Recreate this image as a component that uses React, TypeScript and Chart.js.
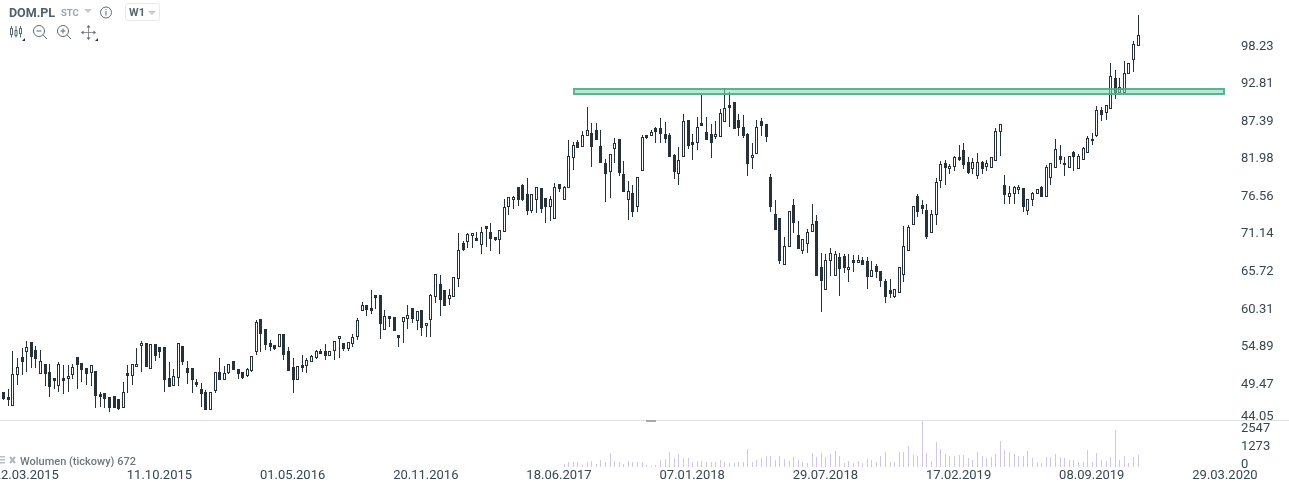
import React, { useEffect, useRef } from "react";
import { Chart, registerables } from "chart.js";

Chart.register(...registerables);

const opens = [
  48.23,47.51,46.21,50.69,53.29,54.01,55.45,54.30,50.83,52.27,
  51.12,50.26,49.10,50.26,50.11,50.69,53.29,52.42,51.70,50.98,
  51.27,47.94,48.09,47.51,47.65,47.22,45.93,50.98,50.54,51.84,
  54.87,55.31,51.55,55.16,54.73,54.73,50.26,49.10,50.26,54.87,
  51.70,51.70,49.68,48.66,48.23,45.64,48.38,51.12,49.97,50.98,
  52.71,51.55,51.12,50.54,51.27,54.01,58.77,57.32,55.31,55.02,
  54.73,56.60,54.16,51.84,49.97,52.13,51.98,52.56,53.15,54.16,
  54.16,53.43,54.16,55.88,55.31,54.44,55.16,56.17,59.93,60.79,
  60.36,62.23,62.23,57.18,59.20,59.06,56.46,58.33,58.77,60.36,
  58.48,60.07,57.76,58.62,61.94,63.82,62.95,61.65,61.94,64.54,
  69.74,69.88,70.75,70.46,69.45,72.19,71.32,70.60,70.17,71.32,
  74.93,75.94,77.82,78.11,76.80,74.36,75.94,77.67,76.22,74.93,
  73.19,78.25,75.94,77.67,82.00,84.31,83.59,85.17,85.61,86.04,
  83.73,81.28,79.98,83.30,84.74,79.69,75.94,76.95,74.93,80.13,
  85.32,85.17,86.33,86.33,85.46,85.32,82.43,79.69,82.14,87.48,
  84.31,84.16,87.05,85.75,85.46,85.03,85.03,87.19,89.65,90.08,
  87.48,86.47,85.46,82.00,82.58,87.34,86.90,79.26,73.92,73.34,
  66.56,69.16,75.22,70.89,68.58,69.59,71.32,72.91,66.27,62.95,
  67.14,64.97,67.71,67.86,65.84,67.28,66.85,67.28,67.14,64.83,
  66.42,65.70,64.25,62.95,61.94,62.52,65.12,68.58,72.33,76.51,
  75.22,74.50,71.18,73.78,78.68,81.28,80.41,80.70,82.14,83.16,
  81.42,80.41,79.40,81.42,80.70,80.56,81.57,85.75,78.11,76.37,
  76.80,77.38,77.67,74.36,75.94,76.80,77.82,76.37,79.12,80.56,
  82.29,81.28,80.56,82.87,80.41,81.71,82.72,84.74,85.17,88.93,
  88.49,89.07,93.54,91.38,91.38,94.12,96.14,98.16,
];

const highs = [
  48.23,48.66,54.16,53.15,54.59,55.60,55.45,54.87,54.30,52.27,
  52.27,50.26,52.56,52.13,52.13,52.27,53.29,52.42,51.70,52.13,
  51.27,48.23,48.09,47.51,47.65,47.22,49.68,52.13,52.27,54.59,
  55.60,55.31,55.16,55.16,54.73,54.73,52.56,51.55,55.31,54.87,
  52.71,51.70,50.11,49.54,48.52,48.23,51.12,53.15,51.98,52.27,
  52.71,51.55,51.12,51.70,53.43,58.62,58.77,57.32,55.74,55.02,
  56.60,56.60,54.73,53.15,51.98,53.58,53.15,53.58,54.30,54.44,
  55.16,54.16,55.60,56.31,55.31,55.45,56.60,58.91,61.22,60.79,
  62.95,62.23,62.23,60.07,59.20,59.06,56.46,59.06,60.79,60.36,
  59.93,60.07,58.19,62.37,65.26,65.12,62.95,63.10,64.83,71.18,
  70.03,71.18,71.18,71.32,72.04,72.19,72.62,70.60,71.61,76.08,
  76.37,76.51,77.82,78.25,79.12,76.80,77.82,77.67,76.22,76.51,
  78.39,78.25,77.96,84.60,84.31,84.60,85.90,89.36,87.05,87.05,
  86.04,81.86,82.58,84.89,84.74,81.57,78.68,78.11,79.26,85.32,
  85.32,86.04,86.47,87.77,87.19,85.61,82.58,83.59,88.35,87.48,
  85.46,87.92,91.09,87.92,86.90,87.34,89.07,92.10,91.52,90.08,
  88.35,88.20,85.61,84.16,87.48,87.77,86.90,79.69,75.94,73.34,
  70.60,74.36,76.08,72.91,70.31,71.75,75.36,73.78,68.29,68.14,
  69.01,68.58,68.29,68.14,68.14,68.00,68.00,67.71,67.71,67.14,
  66.70,65.70,64.54,64.54,63.10,66.27,72.19,72.33,75.07,76.80,
  75.94,75.36,74.50,79.12,81.57,81.71,81.14,82.29,83.87,84.16,
  82.14,82.00,82.72,81.57,81.71,82.14,86.33,86.90,79.55,77.96,
  77.96,78.11,77.67,76.08,77.09,77.53,77.96,80.99,81.28,84.74,
  83.87,82.14,82.29,83.01,82.58,83.59,85.17,85.61,89.50,89.36,
  89.65,95.71,94.70,93.54,96.00,95.71,98.88,102.64,
];

const lows = [
  47.08,46.21,46.21,49.25,50.69,51.12,51.70,51.70,50.83,49.10,
  47.51,48.66,48.23,47.94,48.23,50.11,48.66,49.68,49.25,49.10,
  45.93,46.07,45.93,45.35,45.93,45.64,45.93,48.09,49.25,51.84,
  51.12,51.84,51.55,52.71,53.15,48.23,48.95,49.10,49.10,52.13,
  49.39,48.09,48.95,46.07,45.64,45.64,48.09,49.97,49.97,50.83,
  51.41,50.11,50.11,50.40,51.12,53.58,54.01,54.30,54.16,54.30,
  54.73,52.85,51.27,48.09,49.97,51.12,50.98,52.56,53.00,53.72,
  52.85,53.43,52.85,53.15,54.16,54.16,54.73,55.74,59.93,59.20,
  59.49,60.21,55.88,57.18,57.61,57.04,54.73,55.31,57.32,58.19,
  57.18,56.31,56.17,56.17,61.07,59.20,60.64,60.79,61.94,63.38,
  68.58,69.01,69.01,70.03,68.14,69.16,68.58,70.03,68.14,71.32,
  73.78,74.64,75.07,75.80,73.78,74.07,74.07,74.07,72.62,72.91,
  73.19,77.09,75.94,77.67,80.27,83.44,83.59,85.17,80.70,84.60,
  81.28,75.65,76.22,81.28,79.40,77.09,73.05,73.48,74.21,80.13,
  84.74,85.17,84.16,84.16,84.16,82.14,78.97,78.11,82.14,83.30,
  81.71,83.16,86.62,84.60,82.00,84.74,85.03,87.19,86.47,86.18,
  85.17,84.89,79.40,80.41,82.58,85.17,84.31,74.21,71.61,66.70,
  66.56,69.16,71.18,68.87,68.14,68.29,71.32,64.97,59.78,62.95,
  64.97,64.97,62.08,65.41,64.11,65.55,66.85,66.56,63.10,64.83,
  64.68,63.38,61.07,61.80,61.80,62.52,64.11,68.58,72.33,73.48,
  73.92,70.31,71.18,72.33,77.67,78.11,79.69,80.13,81.57,80.41,
  79.69,79.69,78.97,79.69,80.13,80.56,81.57,82.29,75.36,75.36,
  75.36,76.80,74.21,73.78,75.07,76.80,76.37,76.37,78.11,80.56,
  81.14,79.40,80.56,80.13,80.41,81.71,82.72,83.87,85.03,87.34,
  87.48,89.07,90.51,91.38,91.38,94.12,94.41,98.16,
];

const closes = [
  47.22,47.08,50.83,51.84,52.56,54.73,53.29,53.00,52.71,50.83,
  48.95,49.83,52.27,49.83,50.54,51.84,52.13,51.41,50.83,52.13,
  47.65,47.51,47.22,45.93,45.93,45.78,48.23,50.54,52.27,52.27,
  55.31,51.84,55.16,53.43,54.01,49.97,48.95,50.54,55.31,52.56,
  50.98,49.97,49.25,47.94,45.64,48.23,51.12,49.97,50.98,52.27,
  51.41,50.83,50.26,51.55,53.43,58.33,56.60,55.02,54.73,54.44,
  56.60,53.58,51.27,49.97,51.98,51.70,52.85,53.43,54.16,53.72,
  53.43,54.16,55.60,56.31,54.44,55.45,56.17,58.62,60.79,60.07,
  59.93,61.80,58.04,59.20,58.77,57.04,56.02,59.06,59.35,58.77,
  59.93,57.47,58.19,62.23,65.26,61.51,60.64,62.23,64.83,68.72,
  68.72,71.03,71.18,70.03,71.32,71.75,70.31,70.17,71.61,74.93,
  76.37,76.37,75.94,75.94,74.36,76.80,77.82,74.64,74.93,76.08,
  77.82,77.53,77.82,82.29,83.87,83.44,85.32,86.04,83.59,84.60,
  81.28,79.69,82.58,84.16,79.84,77.09,77.24,74.21,79.26,85.03,
  84.89,85.75,85.75,85.46,84.74,82.14,79.98,81.71,87.34,83.73,
  83.87,86.47,86.62,84.60,84.16,85.46,88.49,89.22,89.22,86.18,
  86.33,85.17,81.14,82.43,86.47,86.62,85.03,74.93,71.61,67.14,
  69.30,74.36,72.62,68.87,70.31,71.32,72.48,64.97,64.25,67.28,
  68.29,68.14,65.98,66.13,66.27,66.85,67.28,66.56,64.83,65.84,
  65.55,64.25,61.94,62.37,63.10,66.27,69.30,72.04,75.07,74.21,
  74.64,70.60,73.92,78.54,81.14,80.56,80.85,82.14,81.71,80.99,
  79.84,81.42,81.42,80.41,81.28,82.14,85.90,86.90,76.66,76.95,
  77.82,77.82,74.93,76.08,76.95,77.53,76.37,80.70,81.28,83.30,
  81.71,80.99,82.29,82.14,82.29,83.44,84.89,84.45,88.93,88.20,
  89.65,93.83,91.38,92.25,94.27,95.71,98.45,99.75,
];

// Tick volume of the last 126 weeks shown
const volumes = [
  146,291,291,255,109,291,328,182,400,291,801,328,291,146,328,291,255,291,109,73,109,
  400,437,837,510,728,510,473,255,328,328,255,255,255,400,255,218,218,255,291,983,
  291,400,510,619,619,364,619,437,328,546,364,291,218,801,546,801,546,728,910,619,
  218,328,218,328,218,437,364,291,619,837,291,291,837,837,1165,655,582,2547,801,328,
  1383,983,728,619,619,692,655,510,400,837,619,510,546,728,1420,946,837,728,582,619,
  874,510,291,218,546,546,728,546,510,400,364,255,291,946,291,801,400,328,546,2038,
  400,619,218,546,672,
];

const dateTicks = [
  "22.03.2015","11.10.2015","01.05.2016","20.11.2016","18.06.2017",
  "07.01.2018","29.07.2018","17.02.2019","08.09.2019","29.03.2020",
];
const priceLabels = ["98.23","92.81","87.39","81.98","76.56","71.14","65.72","60.31","54.89","49.47","44.05"];
const priceLabelAt = [98.23,92.81,87.39,81.98,76.56,71.14,65.72,60.31,54.89,49.47,44.77];
const volumeLabels = ["2547","1273","0"];
const volumeLabelAt = [2160,1190,194];

const SLOT_COUNT = 270;
const FIRST_TICK_SLOT = 5;
const TICK_EVERY = 29;
const VOLUME_FIRST_SLOT = 122;
const PRICE_MAX = 104.8;
const PRICE_MIN = 44.19;
const VOLUME_MAX = 2602;
const zone = { from: 124.05, to: 266.1, low: 91.09, high: 92.1 };

const DARK = "#263238";
const TEXT = "#37474f";
const FONT = "Roboto";

const slots = Array.from({ length: SLOT_COUNT }, (_, i) => String(i));
const wickData = highs.map((h, i) => [lows[i], h]);
const bodyData = opens.map((o, i) => [o, closes[i]]);
const volumeData = [...Array(VOLUME_FIRST_SLOT).fill(null), ...volumes];

const crispBars = {
  id: "crispBars",
  afterDatasetsUpdate(chart: any) {
    chart.data.datasets.forEach((_: any, i: number) => {
      chart.getDatasetMeta(i).data.forEach((el: any) => {
        if (!Number.isFinite(el.y) || !Number.isFinite(el.base)) return;
        el.x = Math.round(el.x) + 0.5;
        el.y = Math.round(el.y);
        el.base = Math.round(el.base);
      });
    });
  },
};

const overlay = {
  id: "overlay",
  afterDatasetsDraw(chart: any) {
    const { ctx, scales } = chart;
    const x0 = Math.round(scales.x.getPixelForValue(zone.from));
    const x1 = Math.round(scales.x.getPixelForValue(zone.to));
    const y0 = Math.round(scales.y.getPixelForValue(zone.high));
    const y1 = Math.round(scales.y.getPixelForValue(zone.low));
    ctx.save();
    ctx.fillStyle = "rgba(125,215,180,0.55)";
    ctx.fillRect(x0, y0, x1 - x0, y1 - y0);
    ctx.strokeStyle = "rgba(70,165,130,0.8)";
    ctx.lineWidth = 2;
    ctx.strokeRect(x0 + 1, y0 + 1, x1 - x0 - 2, y1 - y0 - 2);
    const top = Math.round(scales.yVol.top);
    ctx.fillStyle = "#e0e0e0";
    ctx.fillRect(0, top, chart.width, 1);
    ctx.fillStyle = "#a8a8a8";
    ctx.fillRect(646, top, 10, 2);
    ctx.restore();
  },
};

const yAxisBase = {
  position: "right",
  stack: "panes",
  grid: { display: false, drawTicks: false },
  border: { display: false },
  afterFit(s: any) {
    s.width = 48;
    s.paddingTop = 0;
    s.paddingBottom = 0;
  },
};

function Caret({ x, y, w = 8, c = "#c5ccd0" }: any) {
  return <polygon points={`${x},${y} ${x + w},${y} ${x + w / 2},${y + 4}`} fill={c} />;
}

function Header() {
  const ink = "#5d6a72";
  return (
    <svg width={1289} height={486} style={{ position: "absolute", left: 0, top: 0, pointerEvents: "none" }}>
      <text x={9} y={16.5} fontFamily={FONT} fontWeight={700} fontSize={12.5} fill="#4f616b">DOM.PL</text>
      <text x={61} y={15.5} fontFamily={FONT} fontWeight={700} fontSize={9.5} fill="#9aa6ad">STC</text>
      <Caret x={84} y={9} />
      <circle cx={106} cy={12.5} r={5.5} fill="none" stroke={ink} strokeWidth={1} />
      <rect x={105.5} y={11} width={1} height={4.5} fill={ink} />
      <rect x={105.5} y={9} width={1} height={1} fill={ink} />
      <rect x={125.5} y={3.5} width={34} height={17} rx={2} fill="#fff" stroke="#e6e9eb" />
      <text x={129} y={16} fontFamily={FONT} fontWeight={700} fontSize={11} fill="#566872">W1</text>
      <Caret x={148} y={11} />

      <g stroke={ink} strokeWidth={1} fill="none">
        <path d="M11.5 26V37.5M16 26V37.5M20.5 26V37.5" />
        <rect x={10.5} y={28.5} width={2} height={6} fill="#fff" />
        <rect x={15} y={30.5} width={2} height={5} fill="#fff" />
        <rect x={19.5} y={28.5} width={2} height={5} fill="#fff" />
        <circle cx={39} cy={31} r={5.5} />
        <path d="M36.5 31H41.5M43 35L47 39" />
        <circle cx={63} cy={31} r={5.5} />
        <path d="M60.5 31H65.5M63 28.5V33.5M67 35L71 39" />
        <path d="M82 32.5H95M88.5 26V39" strokeOpacity={0.7} />
      </g>
      <g fill={ink}>
        <polygon points="88.5,25 86.5,27.5 90.5,27.5" />
        <polygon points="88.5,40 86.5,37.5 90.5,37.5" />
        <polygon points="81,32.5 83.5,30.5 83.5,34.5" />
        <polygon points="96,32.5 93.5,30.5 93.5,34.5" />
        <polygon points="25,38 25,41 22,41" fill="#263238" />
        <polygon points="98,38 98,41 95,41" fill="#263238" />
      </g>

      <g fill="#b9bfc3">
        <rect x={0} y={456} width={5} height={1.5} />
        <rect x={0} y={459} width={5} height={1.5} />
        <rect x={0} y={462} width={5} height={1.5} />
      </g>
      <path d="M10 457L15 463M15 457L10 463" stroke="#b0b6ba" strokeWidth={2} />
      <text x={20} y={465} fontFamily={FONT} fontWeight={500} fontSize={11} fill="#6f777c">Wolumen (tickowy) 672</text>
    </svg>
  );
}

export default function App() {
  const ref = useRef<HTMLCanvasElement>(null);

  useEffect(() => {
    const chart = new Chart(ref.current as HTMLCanvasElement, {
      type: "bar",
      plugins: [crispBars, overlay],
      data: {
        labels: slots,
        datasets: [
          {
            label: "Ciało",
            data: bodyData,
            order: 0,
            grouped: false,
            barThickness: 3,
            inflateAmount: 0,
            borderSkipped: false,
            borderWidth: 1,
            borderColor: DARK,
            backgroundColor: closes.map((c, i) => (c >= opens[i] ? "#ffffff" : DARK)),
          },
          {
            label: "Knot",
            data: wickData,
            order: 1,
            grouped: false,
            barThickness: 1,
            inflateAmount: 0,
            borderSkipped: false,
            borderWidth: 0,
            backgroundColor: DARK,
          },
          {
            label: "Wolumen",
            data: volumeData,
            yAxisID: "yVol",
            order: 2,
            grouped: false,
            barThickness: 1,
            inflateAmount: 0,
            borderWidth: 0,
            backgroundColor: "#d0c6ea",
          },
        ],
      } as any,
      options: {
        responsive: false,
        animation: false,
        events: [],
        layout: { padding: { left: 1, right: 0, top: 0, bottom: 0 } },
        plugins: { legend: { display: false }, tooltip: { enabled: false }, title: { display: false } },
        scales: {
          x: {
            type: "category",
            offset: true,
            grid: { display: false, drawTicks: false },
            border: { display: false },
            afterFit(s: any) {
              s.height = 19;
              s.paddingLeft = 0;
              s.paddingRight = 0;
            },
            ticks: {
              autoSkip: false,
              maxRotation: 0,
              minRotation: 0,
              padding: 1,
              color: TEXT,
              font: { family: FONT, size: 13 },
              callback: (_: any, i: number) => {
                const k = (i - FIRST_TICK_SLOT) / TICK_EVERY;
                return Number.isInteger(k) && dateTicks[k] ? dateTicks[k] : "";
              },
            },
          },
          y: {
            ...yAxisBase,
            min: PRICE_MIN,
            max: PRICE_MAX,
            stackWeight: 420,
            afterBuildTicks(s: any) {
              s.ticks = priceLabelAt.map((value) => ({ value }));
            },
            ticks: {
              autoSkip: false,
              padding: 0,
              labelOffset: 1,
              color: TEXT,
              font: { family: FONT, size: 13 },
              callback: (_: any, i: number) => priceLabels[i],
            },
          },
          yVol: {
            ...yAxisBase,
            min: 0,
            max: VOLUME_MAX,
            stackWeight: 47,
            afterBuildTicks(s: any) {
              s.ticks = volumeLabelAt.map((value) => ({ value }));
            },
            ticks: {
              autoSkip: false,
              padding: 0,
              labelOffset: 1,
              color: TEXT,
              font: { family: FONT, size: 13 },
              callback: (_: any, i: number) => volumeLabels[i],
            },
          },
        },
      } as any,
    });
    return () => chart.destroy();
  }, []);

  return (
    <div style={{ position: "absolute", left: 0, top: 0, width: 1289, height: 486, overflow: "hidden", background: "#fff" }}>
      <canvas ref={ref} width={1289} height={486} style={{ display: "block" }} />
      <Header />
    </div>
  );
}
